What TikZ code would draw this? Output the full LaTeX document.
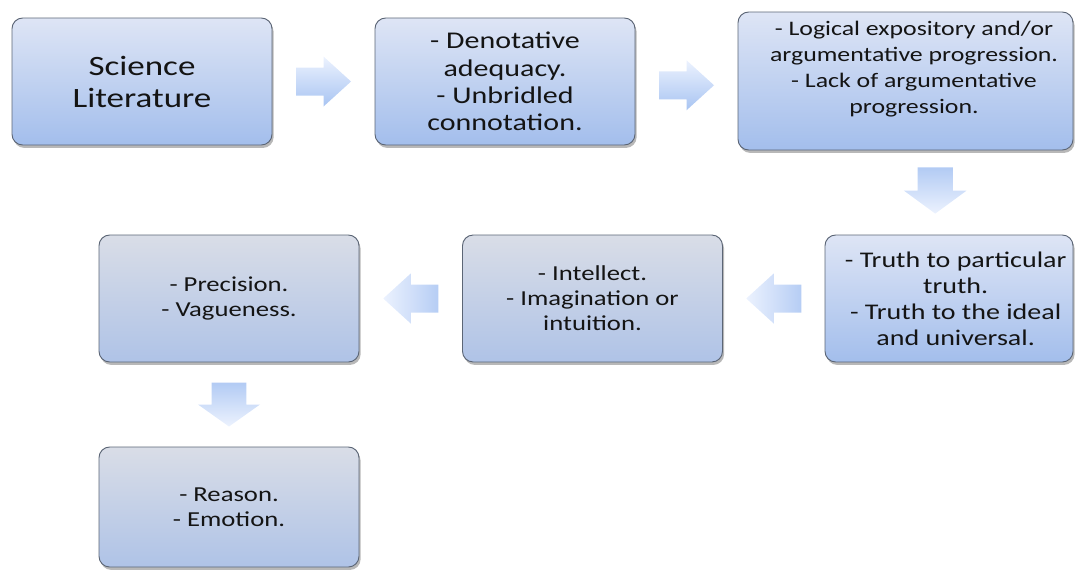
\documentclass[tikz,border=0pt]{standalone}
\usepackage{fontspec}
\setmainfont{Carlito}[FakeStretch=1.25]
\usetikzlibrary{calc,shadows}

\definecolor{bluetop}{RGB}{222,229,245}
\definecolor{bluebot}{RGB}{163,190,236}
\definecolor{greytop}{RGB}{217,221,231}
\definecolor{greybot}{RGB}{175,195,231}
\definecolor{edgegrey}{RGB}{92,102,118}
\definecolor{arrlight}{RGB}{236,242,254}
\definecolor{arrdark}{RGB}{168,196,242}
\definecolor{inkdark}{RGB}{20,20,20}

\begin{document}
\begin{tikzpicture}[x=0.75pt,y=-0.75pt,
  stepbox/.style={draw=edgegrey, line width=0.7pt, rounded corners=8pt,
    align=center, text=inkdark, inner sep=0pt,
    drop shadow={shadow xshift=1.2pt, shadow yshift=-2.2pt, opacity=0.28, fill=black}},
  bluebox/.style={stepbox, top color=bluetop, bottom color=bluebot},
  greybox/.style={stepbox, top color=greytop, bottom color=greybot},
  w260/.style={minimum width=195pt, minimum height=95.25pt},
  arrowfill/.style={top color=arrlight, bottom color=arrdark},
  blockarrow/.pic={
    \path[arrowfill] (-27.5,-14) -- (0,-14) -- (0,-25) -- (27.5,0)
      -- (0,25) -- (0,14) -- (-27.5,14) -- cycle;
  },
  txtA/.style={font=\fontsize{21}{24}\selectfont},
  txtB/.style={font=\fontsize{18}{20.5}\selectfont},
  txtC/.style={font=\fontsize{15.5}{19.5}\selectfont},
  txtD/.style={font=\fontsize{16.8}{19.5}\selectfont},
  txtE/.style={font=\fontsize{16}{18.8}\selectfont},
]
\useasboundingbox (0,0) rectangle (1075,569);
\clip (0,0) rectangle (1075,569);

% first row
\node[bluebox, w260, txtA] (b1) at (142,81.5) {Science\\Literature};
\node[bluebox, w260, txtB] (b2) at (505,81.5)
  {- Denotative\\adequacy.\\- Unbridled\\connotation.};
\node[bluebox, minimum width=251.25pt, minimum height=103.5pt] (b3) at (905.5,81) {};
\node[txtC, align=center, text=inkdark, inner sep=0pt] (t3) at (914,69)
  {- Logical expository and/or\\argumentative progression.\\- Lack of argumentative\\progression.};

% second row
\node[bluebox, minimum width=186pt, minimum height=95.25pt, txtD] (b4) at (949,298.5)
  {\hspace*{10pt}- Truth to particular\\\hspace*{10pt}truth.\\\hspace*{10pt}- Truth to the ideal\\\hspace*{10pt}and universal.};
\node[greybox, w260, txtE] (b5) at (592.5,298.5)
  {- Intellect.\\- Imagination or\\intuition.};
\node[greybox, w260, txtE] (b6) at (229,298.5)
  {- Precision.\\- Vagueness.};

% last box
\node[greybox, minimum width=195pt, minimum height=90pt, txtE] (b7) at (229,507)
  {- Reason.\\- Emotion.};

% block arrows between the steps
\pic at ($(b1.east)!0.5!(b2.west)$) {blockarrow};
\pic at ($(b2.east)!0.5!(b3.west)+(0,4)$) {blockarrow};
\pic[rotate=-90, xscale=0.84, yscale=1.26,
     arrowfill/.style={top color=arrdark!85!arrlight, bottom color=arrlight}]
  at ($(b3.south)!0.5!(b4.north)+(8,-2)$) {blockarrow};
\pic[rotate=180,
     arrowfill/.style={left color=arrlight, right color=arrdark!80!arrlight}]
  at ($(b5.east)!0.5!(b4.west)$) {blockarrow};
\pic[rotate=180,
     arrowfill/.style={left color=arrlight, right color=arrdark!80!arrlight}]
  at ($(b6.east)!0.5!(b5.west)$) {blockarrow};
\pic[rotate=-90, xscale=0.8, yscale=1.24,
     arrowfill/.style={top color=arrdark!85!arrlight, bottom color=arrlight}]
  at ($(b6.south)!0.5!(b7.north)$) {blockarrow};
\end{tikzpicture}
\end{document}
